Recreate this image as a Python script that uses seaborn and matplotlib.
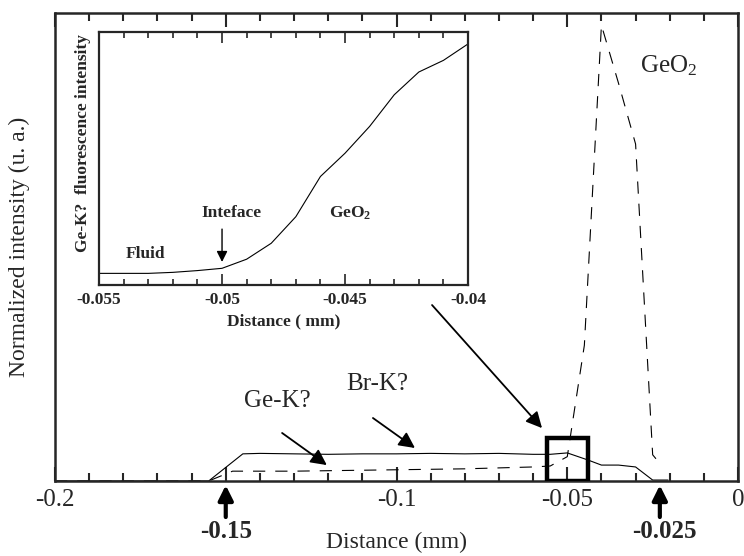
import numpy as np
import pandas as pd
import matplotlib
matplotlib.use("Agg")
import matplotlib.pyplot as plt
import matplotlib.ticker as mticker
from matplotlib.patches import Rectangle
import seaborn as sns

sns.set_style("ticks")
plt.rcParams["font.family"] = ["Liberation Serif", "DejaVu Serif"]
plt.rcParams["mathtext.fontset"] = "custom"
plt.rcParams["mathtext.rm"] = "Liberation Serif"
plt.rcParams["mathtext.bf"] = "Liberation Serif:bold"
plt.rcParams["mathtext.it"] = "Liberation Serif:italic"

# --- datos: perfil principal (mm, intensidad normalizada) ---
dist_brk = [-0.2, -0.155, -0.145, -0.14, -0.13, -0.12, -0.11, -0.1, -0.09, -0.08,
            -0.07, -0.06, -0.055, -0.05, -0.044, -0.04, -0.035, -0.03, -0.025, -0.0205]
int_brk = [0, 0, 0.058, 0.059, 0.058, 0.057, 0.058, 0.058, 0.059, 0.058,
           0.059, 0.057, 0.057, 0.060, 0.045, 0.034, 0.034, 0.030, 0.002, 0.002]

dist_gek = [-0.2, -0.155, -0.148, -0.13, -0.12, -0.1, -0.08, -0.06, -0.055, -0.05,
            -0.045, -0.04, -0.035, -0.03, -0.025, -0.0225]
int_gek = [0, 0, 0.021, 0.021, 0.022, 0.024, 0.026, 0.030, 0.032, 0.052,
           0.29, 0.974, 0.85, 0.72, 0.056, 0.034]

# --- datos: recuadro (zoom de la interfase) ---
dist_zoom = [-0.055, -0.054, -0.053, -0.052, -0.051, -0.050, -0.049, -0.048,
             -0.047, -0.046, -0.045, -0.044, -0.043, -0.042, -0.041, -0.040]
int_zoom = [0.046, 0.046, 0.046, 0.050, 0.057, 0.066, 0.102, 0.165,
            0.270, 0.429, 0.521, 0.627, 0.752, 0.842, 0.888, 0.953]

main_ticks = [-0.2, -0.15, -0.1, -0.05, 0.0]
zoom_ticks = [-0.055, -0.05, -0.045, -0.04]

df_brk = pd.DataFrame({"x": dist_brk, "y": int_brk})
df_gek = pd.DataFrame({"x": dist_gek, "y": int_gek})
df_zoom = pd.DataFrame({"x": dist_zoom, "y": int_zoom})


def fmt_main(x, _):
    if abs(x + 0.15) < 1e-9:
        return ""
    if abs(x) < 1e-12:
        return "0"
    return f"{x:g}"


fig = plt.figure(figsize=(7.44, 5.56), dpi=100)
ax = fig.add_axes([0.0739, 0.1349, 0.9181, 0.8417])

sns.lineplot(data=df_brk, x="x", y="y", color="black", lw=0.8, ax=ax)
sns.lineplot(data=df_gek, x="x", y="y", color="black", lw=0.8,
             linestyle=(0, (11, 9)), ax=ax)

ax.set_xlim(-0.2, 0.0)
ax.set_ylim(0, 1)
ax.xaxis.set_major_locator(mticker.FixedLocator(main_ticks))
ax.xaxis.set_minor_locator(mticker.MultipleLocator(0.01))
ax.xaxis.set_major_formatter(mticker.FuncFormatter(fmt_main))
ax.set_yticks([])
ax.tick_params(axis="x", which="both", direction="in", top=True, bottom=True,
               width=1.5, labelsize=18, pad=6)
ax.tick_params(axis="x", which="major", length=10)
ax.tick_params(axis="x", which="minor", length=6)
for s in ax.spines.values():
    s.set_linewidth(1.8)
ax.set_xlabel("Distance (mm)", fontsize=17, labelpad=15)
ax.set_ylabel("Normalized intensity (u. a.)", fontsize=17)
ax.yaxis.set_label_coords(-0.037, 0.5)

# recuadro marcado en la interfase
ax.add_patch(Rectangle((-0.0559, 0), 0.012, 0.092, fill=False, lw=3.2,
                       edgecolor="black", zorder=5))

# textos y flechas del panel principal
ax.text(-0.0287, 0.887, r"GeO$_2$", fontsize=18, ha="left", va="center")
ax.text(-0.135, 0.171, "Ge-K?", fontsize=18, ha="center", va="center")
ax.text(-0.1057, 0.207, "Br-K?", fontsize=18, ha="center", va="center")
flecha = dict(arrowstyle="-|>", color="black", lw=1.3, mutation_scale=24,
              shrinkA=0, shrinkB=0)
ax.annotate("", xy=(-0.1204, 0.034), xytext=(-0.1335, 0.1026), arrowprops=flecha)
ax.annotate("", xy=(-0.0946, 0.0705), xytext=(-0.1069, 0.1346), arrowprops=flecha)
ax.annotate("", xy=(-0.0574, 0.113), xytext=(-0.0896, 0.376), arrowprops=flecha)

trans = ax.get_xaxis_transform()
gruesa = dict(arrowstyle="-|>", color="black", lw=3, mutation_scale=22,
              shrinkA=0, shrinkB=0)
ax.annotate("", xy=(-0.15, -0.009), xytext=(-0.15, -0.077), xycoords=trans,
            textcoords=trans, arrowprops=gruesa, annotation_clip=False)
ax.text(-0.15, -0.107, "-0.15", transform=trans, fontsize=18, fontweight="bold",
        ha="center", va="center")
ax.annotate("", xy=(-0.0229, -0.009), xytext=(-0.0229, -0.077), xycoords=trans,
            textcoords=trans, arrowprops=gruesa, annotation_clip=False)
ax.text(-0.0217, -0.107, "-0.025", transform=trans, fontsize=18, fontweight="bold",
        ha="center", va="center")

# --- recuadro ---
ins = fig.add_axes([0.1331, 0.4874, 0.4960, 0.4550])
sns.lineplot(data=df_zoom, x="x", y="y", color="black", lw=0.8, ax=ins)
ins.set_xlim(-0.055, -0.04)
ins.set_ylim(0, 1)
ins.xaxis.set_major_locator(mticker.FixedLocator(zoom_ticks))
ins.xaxis.set_minor_locator(mticker.MultipleLocator(0.001))
ins.xaxis.set_major_formatter(mticker.FuncFormatter(lambda x, _: f"{x:g}"))
ins.set_yticks([])
ins.tick_params(axis="x", which="both", direction="in", top=True, bottom=True,
                width=1.2, labelsize=12.5, pad=5)
ins.tick_params(axis="x", which="major", length=8)
ins.tick_params(axis="x", which="minor", length=4)
for lab in ins.get_xticklabels():
    lab.set_fontweight("bold")
for s in ins.spines.values():
    s.set_linewidth(1.6)
ins.set_xlabel("Distance ( mm)", fontsize=12.5, fontweight="bold", labelpad=4)
ins.set_ylabel("Ge-K?  fluorescence intensity", fontsize=12.5, fontweight="bold")
ins.yaxis.set_label_coords(-0.022, 0.56)

ins.text(-0.0531, 0.1225, "Fluid", fontsize=12.5, fontweight="bold",
         ha="center", va="center")
ins.text(-0.0496, 0.285, "Inteface", fontsize=12.5, fontweight="bold",
         ha="center", va="center")
ins.text(-0.0448, 0.285, r"GeO$_\mathbf{2}$", fontsize=12.5, fontweight="bold",
         ha="center", va="center")
ins.annotate("", xy=(-0.05, 0.091), xytext=(-0.05, 0.221),
             arrowprops=dict(arrowstyle="-|>", color="black", lw=1,
                             mutation_scale=16, shrinkA=0, shrinkB=0))

fig.savefig("out.png", dpi=100)
